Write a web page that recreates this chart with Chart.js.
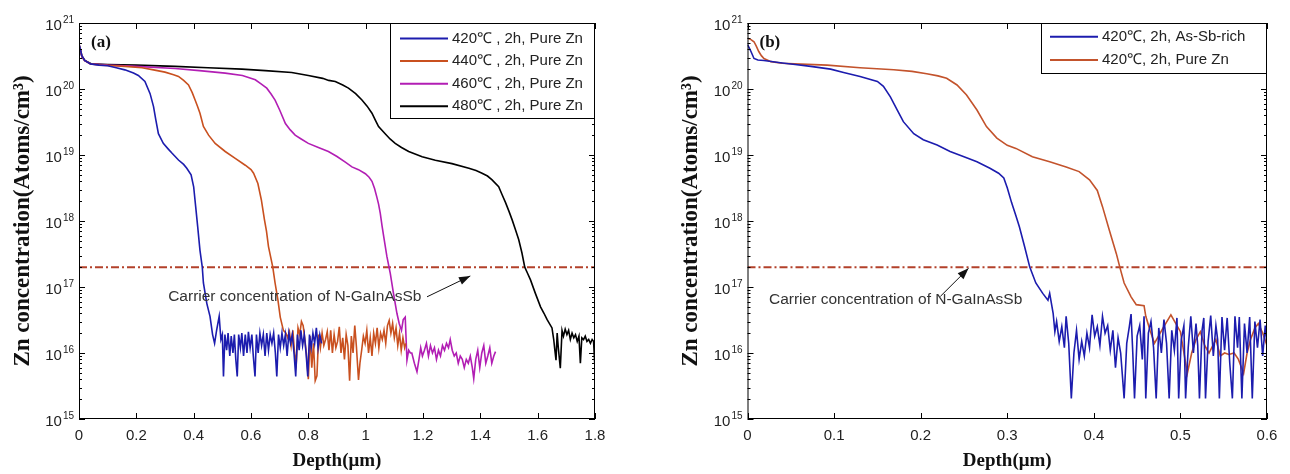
<!DOCTYPE html>
<html>
<head>
<meta charset="utf-8">
<script src="https://cdn.jsdelivr.net/npm/chart.js@4/dist/chart.umd.min.js"></script>
<style>
  html, body { margin: 0; padding: 0; background: #fff; }
  .panel { position: absolute; top: 0; width: 645px; height: 474px; }
</style>
</head>
<body>
<div class="panel" style="left:0"><canvas id="chartA" width="645" height="474"></canvas></div>
<div class="panel" style="left:645px"><canvas id="chartB" width="645" height="474"></canvas></div>
<script>
// ---- tick labels ----
const yExponents = [15, 16, 17, 18, 19, 20, 21];
const xTicksA = [0, 0.2, 0.4, 0.6, 0.8, 1, 1.2, 1.4, 1.6, 1.8];
const xLabelsA = ['0', '0.2', '0.4', '0.6', '0.8', '1', '1.2', '1.4', '1.6', '1.8'];
const xTicksB = [0, 0.1, 0.2, 0.3, 0.4, 0.5, 0.6];
const xLabelsB = ['0', '0.1', '0.2', '0.3', '0.4', '0.5', '0.6'];

// carrier concentration of N-GaInAsSb
const carrierLevel = 2e17;

// ---- panel (a): Pure Zn, 2h, 420-480 C ----
const depth420 = [0, 0.005, 0.01, 0.02, 0.04, 0.07, 0.10, 0.13, 0.16, 0.19, 0.207, 0.23, 0.248, 0.26, 0.268, 0.277, 0.294, 0.31, 0.324, 0.347, 0.365, 0.376, 0.391, 0.40, 0.407, 0.414, 0.422, 0.43, 0.434, 0.446, 0.457, 0.466, 0.473,
  0.480, 0.489, 0.495, 0.500, 0.504, 0.509, 0.515, 0.520, 0.526, 0.531, 0.537, 0.542, 0.547, 0.552, 0.557, 0.563, 0.568, 0.574, 0.580, 0.586, 0.591, 0.597, 0.603, 0.608, 0.614, 0.619, 0.625, 0.631, 0.637, 0.643, 0.649, 0.655, 0.661, 0.667, 0.673, 0.679, 0.685, 0.690, 0.696, 0.702, 0.708, 0.714, 0.720, 0.726, 0.732, 0.738, 0.744, 0.750, 0.756, 0.762, 0.768, 0.774, 0.780, 0.786, 0.792, 0.798, 0.804, 0.810, 0.816, 0.822, 0.828, 0.834, 0.840, 0.846];
const zn420 = [4.8e20, 4.0e20, 3.2e20, 2.7e20, 2.4e20, 2.3e20, 2.25e20, 2.1e20, 1.95e20, 1.75e20, 1.6e20, 1.3e20, 8.5e19, 5.4e19, 3.4e19, 2.1e19, 1.5e19, 1.25e19, 1.07e19, 8.4e18, 7.2e18, 6.3e18, 5e18, 3.3e18, 1.65e18, 8.2e17, 3.6e17, 2e17, 1.15e17, 5.6e16, 3.6e16, 1.9e16, 1.4e16,
  2.2e16, 3.6e16, 1.6e16, 1.9e16, 4.4e15, 1.9e16, 1.1e16, 2.0e16, 9e15, 1.8e16, 1.0e16, 1.9e16, 8e15, 4.4e15, 1.9e16, 1.2e16, 2.0e16, 9e15, 1.9e16, 1.0e16, 2.1e16, 1.2e16, 1.9e16, 9e15, 4.4e15, 1.9e16, 1.0e16, 2.0e16, 1.3e16, 1.9e16, 9e15, 2.0e16, 1.1e16, 1.9e16, 1.4e16, 2.0e16, 1.0e16, 4.4e15, 1.9e16, 1.2e16, 2.0e16, 1.3e16, 1.9e16, 9e15, 2.0e16, 1.4e16, 1.9e16, 1.0e16, 4.4e15, 1.9e16, 1.1e16, 2.2e16, 1.3e16, 1.9e16, 1.0e16, 4.4e15, 1.9e16, 1.2e16, 2.0e16, 1.4e16, 2.4e16, 1.2e16, 1.9e16, 1.4e16];

const depth440 = [0, 0.005, 0.01, 0.02, 0.04, 0.08, 0.12, 0.16, 0.22, 0.26, 0.30, 0.33, 0.347, 0.365, 0.382, 0.395, 0.405, 0.414, 0.422, 0.434, 0.452, 0.475, 0.51, 0.545, 0.58, 0.60, 0.609, 0.624, 0.636, 0.647, 0.654, 0.661, 0.676, 0.684, 0.694, 0.702, 0.713, 0.722,
  0.728, 0.734, 0.740, 0.746, 0.752, 0.758, 0.764, 0.770, 0.776, 0.782, 0.788, 0.794, 0.800, 0.806, 0.812, 0.818, 0.824, 0.830, 0.836, 0.842, 0.848, 0.854, 0.860, 0.866, 0.872, 0.878, 0.884, 0.890, 0.896, 0.902, 0.908, 0.914, 0.920, 0.926, 0.932, 0.938, 0.944, 0.950, 0.956, 0.962, 0.968, 0.975, 0.980, 0.986, 0.992, 0.998, 1.004, 1.010, 1.016, 1.022, 1.028, 1.034, 1.040, 1.046, 1.052, 1.058, 1.064, 1.070, 1.076, 1.082, 1.088, 1.094, 1.100, 1.106, 1.112, 1.118, 1.124, 1.130, 1.136, 1.140];
const zn440 = [4.8e20, 4.0e20, 3.2e20, 2.7e20, 2.4e20, 2.3e20, 2.25e20, 2.2e20, 2.1e20, 1.95e20, 1.8e20, 1.65e20, 1.55e20, 1.35e20, 1.15e20, 8.8e19, 6.8e19, 5.4e19, 4.3e19, 2.7e19, 2e19, 1.5e19, 1.13e19, 8.9e18, 7e18, 6e18, 5.3e18, 3.7e18, 2.1e18, 1.04e18, 7e17, 4.1e17, 2e17, 1.15e17, 6.3e16, 3.5e16, 2.2e16, 2e16,
  1.7e16, 2.1e16, 1.3e16, 2.2e16, 1.0e16, 7e15, 2.4e16, 1.9e16, 3.0e16, 2.6e16, 1.6e16, 9e15, 4e15, 1.8e16, 6e15, 1.4e16, 3.8e15, 4.5e15, 1.9e16, 1.2e16, 2.0e16, 1.3e16, 1.6e16, 2.1e16, 1.1e16, 2.2e16, 1.0e16, 1.9e16, 1.2e16, 1.5e16, 2.5e16, 1.0e16, 1.7e16, 8e15, 1.9e16, 1.3e16, 3.8e15, 1.8e16, 1.0e16, 2.6e16, 1.2e16, 3.9e15, 7e15, 1.1e16, 1.8e16, 1.4e16, 2.2e16, 1.0e16, 1.7e16, 9e15, 2.0e16, 1.4e16, 2.4e16, 1.2e16, 2.0e16, 1.6e16, 2.2e16, 1.4e16, 2.6e16, 3.1e16, 2.0e16, 2.8e16, 1.7e16, 2.4e16, 1.3e16, 2.0e16, 1.1e16, 1.7e16, 1.2e16, 1.4e16];

const depth460 = [0, 0.005, 0.01, 0.02, 0.04, 0.1, 0.2, 0.335, 0.42, 0.51, 0.57, 0.615, 0.635, 0.655, 0.67, 0.684, 0.70, 0.72, 0.737, 0.754, 0.775, 0.80, 0.835, 0.87, 0.90, 0.929, 0.952, 0.975, 0.999, 1.012, 1.022, 1.031, 1.039, 1.045, 1.051, 1.057, 1.063, 1.074, 1.086, 1.097, 1.109, 1.117, 1.125, 1.131, 1.138,
  1.144, 1.150, 1.156, 1.161, 1.170, 1.179, 1.186, 1.192, 1.198, 1.205, 1.212, 1.219, 1.226, 1.233, 1.240, 1.247, 1.254, 1.261, 1.268, 1.275, 1.282, 1.289, 1.295, 1.302, 1.309, 1.316, 1.323, 1.330, 1.337, 1.344, 1.351, 1.358, 1.365, 1.372, 1.377, 1.384, 1.391, 1.398, 1.405, 1.412, 1.419, 1.426, 1.433, 1.440, 1.447, 1.453];
const zn460 = [4.6e20, 3.9e20, 3.1e20, 2.7e20, 2.4e20, 2.3e20, 2.2e20, 2.05e20, 1.9e20, 1.74e20, 1.6e20, 1.38e20, 1.2e20, 1.03e20, 8.4e19, 6.8e19, 4.8e19, 3e19, 2.4e19, 2e19, 1.75e19, 1.5e19, 1.3e19, 1.13e19, 9.5e18, 7.8e18, 6.6e18, 6e18, 5.2e18, 4.6e18, 4e18, 3.1e18, 2.3e18, 1.8e18, 1.3e18, 8.5e17, 5.8e17, 2.9e17, 1.6e17, 8e16, 4e16, 2.8e16, 2.2e16, 3.2e16, 3.5e16,
  7.8e15, 1.1e16, 1.0e16, 1.0e16, 7e15, 5.2e15, 8e15, 1.2e16, 9e15, 1.1e16, 1.4e16, 9e15, 1.3e16, 1.0e16, 1.2e16, 8e15, 1.1e16, 9e15, 1.3e16, 1.1e16, 1.4e16, 1.2e16, 1.6e16, 1.1e16, 9e15, 1.0e16, 7e15, 9e15, 8e15, 6e15, 8e15, 7e15, 9e15, 6e15, 4.1e15, 8e15, 1.1e16, 6e15, 1.0e16, 1.3e16, 7e15, 9e15, 1.2e16, 7e15, 9e15, 1.05e16];

const depth480 = [0, 0.005, 0.01, 0.02, 0.044, 0.1, 0.2, 0.335, 0.45, 0.568, 0.65, 0.742, 0.80, 0.85, 0.871, 0.894, 0.92, 0.94, 0.965, 0.987, 1.005, 1.022, 1.035, 1.045, 1.068, 1.085, 1.103, 1.125, 1.15, 1.197, 1.243, 1.301, 1.36, 1.385, 1.406, 1.425, 1.441, 1.464, 1.476, 1.488, 1.5, 1.511, 1.522, 1.534, 1.545, 1.555, 1.565, 1.575, 1.592, 1.61, 1.622, 1.633, 1.65, 1.656,
  1.660, 1.664, 1.668, 1.672, 1.679, 1.685, 1.690, 1.696, 1.702, 1.708, 1.714, 1.720, 1.726, 1.732, 1.738, 1.744, 1.749, 1.754, 1.760, 1.766, 1.772, 1.778, 1.784, 1.790, 1.795, 1.799];
const zn480 = [4.6e20, 3.8e20, 3.1e20, 2.7e20, 2.4e20, 2.35e20, 2.3e20, 2.2e20, 2.1e20, 2.0e20, 1.9e20, 1.78e20, 1.6e20, 1.45e20, 1.35e20, 1.3e20, 1.15e20, 1.03e20, 8.5e19, 6.8e19, 5.5e19, 4.3e19, 3.3e19, 2.7e19, 2.1e19, 1.75e19, 1.5e19, 1.3e19, 1.13e19, 9.4e18, 8.3e18, 7.4e18, 6.3e18, 5.8e18, 5.3e18, 4.8e18, 4.2e18, 3.3e18, 2.5e18, 1.9e18, 1.4e18, 1.04e18, 7.5e17, 5.2e17, 3.3e17, 2e17, 1.6e17, 1.28e17, 8e16, 5e16, 4e16, 3.2e16, 2.4e16, 1.6e16,
  1.1e16, 7.8e15, 2.0e16, 1.2e16, 5.9e15, 2.2e16, 1.8e16, 2.3e16, 1.9e16, 2.2e16, 1.6e16, 2.0e16, 1.7e16, 1.9e16, 1.5e16, 1.8e16, 7e15, 1.7e16, 1.6e16, 1.8e16, 1.5e16, 1.6e16, 1.4e16, 1.6e16, 1.5e16, 7e15];

// ---- panel (b): 420 C, 2h, As-Sb-rich vs Pure Zn ----
const depthAsSb = [0, 0.002, 0.004, 0.0075, 0.012, 0.019, 0.038, 0.055, 0.073, 0.096, 0.111, 0.13, 0.15, 0.157, 0.165, 0.173, 0.18, 0.192, 0.203, 0.219, 0.234, 0.25, 0.265, 0.28, 0.29, 0.296, 0.30, 0.305, 0.31, 0.314, 0.32, 0.326, 0.333, 0.341, 0.347, 0.349, 0.353, 0.355,
  0.357, 0.360, 0.363, 0.366, 0.368, 0.371, 0.374, 0.377, 0.380, 0.383, 0.386, 0.389, 0.392, 0.395, 0.398, 0.401, 0.404, 0.407, 0.410, 0.413, 0.416, 0.419, 0.422, 0.425, 0.428, 0.431, 0.435, 0.438, 0.441, 0.443, 0.445, 0.447, 0.450, 0.453, 0.456, 0.458, 0.460, 0.463, 0.466, 0.469, 0.472, 0.475, 0.478, 0.481, 0.484, 0.487, 0.490, 0.493, 0.496, 0.498, 0.501, 0.504, 0.506, 0.509, 0.512, 0.515, 0.518, 0.520, 0.522, 0.525, 0.527, 0.529, 0.532, 0.535, 0.538, 0.541, 0.543, 0.545, 0.548, 0.551, 0.554, 0.557, 0.560, 0.563, 0.566, 0.568, 0.571, 0.574, 0.577, 0.580, 0.583, 0.586, 0.589, 0.592, 0.595, 0.598, 0.600];
const znAsSb = [4.7e20, 4.2e20, 3.7e20, 2.9e20, 2.75e20, 2.7e20, 2.5e20, 2.35e20, 2.2e20, 2.0e20, 1.78e20, 1.55e20, 1.3e20, 1.1e20, 7.6e19, 4.8e19, 3.2e19, 2.1e19, 1.7e19, 1.42e19, 1.13e19, 9.4e18, 7.9e18, 6.3e18, 5.3e18, 4.5e18, 3.2e18, 1.9e18, 1.2e18, 8.2e17, 4.1e17, 2e17, 1.15e17, 8e16, 6.3e16, 8e16, 4e16, 2.1e16,
  3.0e16, 1.5e16, 2.5e16, 1.2e16, 3.6e16, 1.4e16, 2.05e15, 1.0e16, 2.2e16, 8e15, 1.5e16, 9e15, 2.0e16, 1.2e16, 3.8e16, 1.8e16, 2.5e16, 1.3e16, 3.6e16, 2.0e16, 2.6e16, 1.1e16, 2.2e16, 6e15, 1.7e16, 1.0e16, 2.05e15, 1.4e16, 2.5e16, 3.9e16, 1.0e16, 2.05e15, 1.8e16, 2.6e16, 8e15, 3.6e16, 2.05e15, 2.0e16, 3.0e16, 1.2e16, 2.05e15, 2.4e16, 1.0e16, 3.2e16, 1.4e16, 2.05e15, 2.2e16, 1.1e16, 3.4e16, 2.05e15, 1.6e16, 2.6e16, 2.05e15, 1.2e16, 3.6e16, 1.0e16, 2.8e16, 1.3e16, 2.05e15, 2.2e16, 3.4e16, 2.05e15, 1.5e16, 3.7e16, 9e15, 2.6e16, 1.6e16, 2.05e15, 3.5e16, 1.1e16, 3.4e16, 7e15, 2.05e15, 3.6e16, 1.2e16, 3.5e16, 2.05e15, 2.8e16, 1.0e16, 3.5e16, 2.05e15, 3.0e16, 1.2e16, 3.2e16, 9e15, 2.6e16, 1.3e16];

const depthPureB = [0, 0.004, 0.0075, 0.01, 0.013, 0.016, 0.019, 0.027, 0.04, 0.054, 0.092, 0.13, 0.169, 0.19, 0.207, 0.22, 0.23, 0.242, 0.253, 0.265, 0.276, 0.288, 0.30, 0.31, 0.329, 0.349, 0.368, 0.383, 0.395, 0.404, 0.41, 0.418, 0.426, 0.43, 0.435, 0.443, 0.449, 0.458, 0.46, 0.465, 0.47, 0.48, 0.489, 0.5, 0.508, 0.513, 0.518, 0.523, 0.528, 0.533, 0.541, 0.546, 0.551, 0.556, 0.562, 0.567, 0.573, 0.577, 0.581, 0.586, 0.59, 0.595, 0.6];
const znPureB = [5.9e20, 5.6e20, 5.2e20, 4.5e20, 3.7e20, 3.2e20, 2.9e20, 2.6e20, 2.45e20, 2.4e20, 2.3e20, 2.1e20, 1.96e20, 1.85e20, 1.7e20, 1.58e20, 1.45e20, 1.15e20, 8.1e19, 4.8e19, 2.7e19, 1.8e19, 1.4e19, 1.26e19, 9.4e18, 7.9e18, 6.6e18, 5.6e18, 4.2e18, 2.9e18, 1.65e18, 7.2e17, 3.2e17, 2e17, 1.15e17, 7.1e16, 5.4e16, 5.2e16, 3.6e16, 2.2e16, 1.4e16, 2.4e16, 3.8e16, 2.1e16, 4.9e15, 1.0e16, 1.6e16, 2.1e16, 1.3e16, 1.0e16, 1.6e16, 9e15, 1.0e16, 9.5e15, 1.0e16, 8e15, 4.9e15, 1.0e16, 1.6e16, 2.4e16, 2.8e16, 2.0e16, 1.3e16];

const BLUE = '#1c1cae', ORANGE = '#c9501f', PURPLE = '#b21eb4', BLACK = '#000000';
const ORANGE_B = '#c3532c', CARRIER = '#b3412b';

function pts(xs, ys) { return xs.map((x, i) => ({ x, y: ys[i] })); }

function series(label, xs, ys, color) {
  return { label, data: pts(xs, ys), borderColor: color, backgroundColor: color, borderWidth: 1.6, pointRadius: 0, tension: 0 };
}

function carrierSet(xmax) {
  return { label: '', data: pts([0, xmax], [carrierLevel, carrierLevel]), borderColor: CARRIER, borderWidth: 2, borderDash: [8, 3, 2, 3], pointRadius: 0 };
}

// box, inward ticks, y tick labels, legend, panel tag and arrow note
const framePlugin = {
  id: 'frame',
  afterDatasetsDraw(chart, args, o) {
    const { ctx, chartArea: a, scales: { x, y } } = chart;
    ctx.save();
    ctx.strokeStyle = '#000';
    ctx.lineWidth = 1;
    ctx.strokeRect(a.left + 0.5, a.top + 0.5, a.right - a.left - 1, a.bottom - a.top - 1);

    ctx.beginPath();
    x.ticks.forEach(t => {
      const px = Math.round(x.getPixelForValue(t.value)) + 0.5;
      ctx.moveTo(px, a.bottom); ctx.lineTo(px, a.bottom - 6);
      ctx.moveTo(px, a.top); ctx.lineTo(px, a.top + 6);
    });
    yExponents.forEach((e, i) => {
      const py = Math.round(y.getPixelForValue(Math.pow(10, e))) + 0.5;
      ctx.moveTo(a.left, py); ctx.lineTo(a.left + 6, py);
      ctx.moveTo(a.right, py); ctx.lineTo(a.right - 6, py);
      if (i === yExponents.length - 1) return;
      for (let k = 2; k <= 9; k++) {
        const pm = Math.round(y.getPixelForValue(k * Math.pow(10, e))) + 0.5;
        ctx.moveTo(a.left, pm); ctx.lineTo(a.left + 3, pm);
        ctx.moveTo(a.right, pm); ctx.lineTo(a.right - 3, pm);
      }
    });
    ctx.stroke();

    // y tick labels as 10^n
    ctx.fillStyle = '#222';
    ctx.textAlign = 'right';
    ctx.textBaseline = 'alphabetic';
    yExponents.forEach(e => {
      const py = y.getPixelForValue(Math.pow(10, e));
      ctx.font = '10px "Liberation Sans", Arial, sans-serif';
      const ex = String(e);
      const w = ctx.measureText(ex).width;
      ctx.fillText(ex, a.left - 5, py);
      ctx.font = '15px "Liberation Sans", Arial, sans-serif';
      ctx.fillText('10', a.left - 6 - w, py + 7);
    });

    // panel tag
    ctx.font = 'bold 17px "Liberation Serif", "Times New Roman", serif';
    ctx.textAlign = 'left';
    ctx.textBaseline = 'middle';
    ctx.fillStyle = '#111';
    ctx.fillText(o.tag, a.left + 12, a.top + 20);

    // legend
    const L = o.legend;
    const bx = a.right - L.width, by = a.top;
    ctx.fillStyle = '#fff';
    ctx.fillRect(bx, by, L.width, L.height);
    ctx.strokeStyle = '#000';
    ctx.strokeRect(bx + 0.5, by + 0.5, L.width - 1, L.height - 1);
    ctx.font = '15px "Liberation Sans", Arial, sans-serif';
    chart.data.datasets.filter(d => d.label).forEach((d, i) => {
      const ly = by + L.first + i * L.gap;
      ctx.strokeStyle = d.borderColor;
      ctx.lineWidth = 2;
      ctx.beginPath();
      ctx.moveTo(bx + L.lineX, ly); ctx.lineTo(bx + L.lineX + 48, ly);
      ctx.stroke();
      ctx.fillStyle = '#222';
      ctx.fillText(d.label, bx + L.lineX + 52, ly);
    });

    // note with arrow (data coordinates)
    const n = o.note;
    ctx.fillStyle = '#333';
    ctx.font = '15.5px "Liberation Sans", Arial, sans-serif';
    ctx.fillText(n.text, x.getPixelForValue(n.at[0]), y.getPixelForValue(n.at[1]));
    const x1 = x.getPixelForValue(n.from[0]), y1 = y.getPixelForValue(n.from[1]);
    const x2 = x.getPixelForValue(n.to[0]), y2 = y.getPixelForValue(n.to[1]);
    const ang = Math.atan2(y2 - y1, x2 - x1);
    ctx.strokeStyle = '#111';
    ctx.lineWidth = 1;
    ctx.beginPath(); ctx.moveTo(x1, y1); ctx.lineTo(x2, y2); ctx.stroke();
    ctx.fillStyle = '#111';
    ctx.beginPath();
    ctx.moveTo(x2, y2);
    ctx.lineTo(x2 - 12 * Math.cos(ang - 0.35), y2 - 12 * Math.sin(ang - 0.35));
    ctx.lineTo(x2 - 12 * Math.cos(ang + 0.35), y2 - 12 * Math.sin(ang + 0.35));
    ctx.closePath(); ctx.fill();
    ctx.restore();
  }
};

function makeChart(id, datasets, xmax, xTicks, xLabels, pad, frame) {
  return new Chart(document.getElementById(id), {
    type: 'line',
    data: { datasets },
    plugins: [framePlugin],
    options: {
      responsive: false,
      animation: false,
      parsing: true,
      layout: { padding: pad },
      plugins: { legend: { display: false }, tooltip: { enabled: false }, frame },
      scales: {
        x: {
          type: 'linear', min: 0, max: xmax,
          afterBuildTicks: s => { s.ticks = xTicks.map(v => ({ value: v })); },
          afterFit: s => { s.height = 55; },
          grid: { display: false, drawTicks: false },
          border: { display: false },
          ticks: { padding: 8, color: '#222', font: { family: '"Liberation Sans", Arial, sans-serif', size: 15 }, callback: (v, i) => xLabels[i] },
          title: { display: true, text: 'Depth(μm)', color: '#111', padding: { top: 0, bottom: 2 }, font: { family: '"Liberation Serif", "Times New Roman", serif', size: 19, weight: 'bold' } }
        },
        y: {
          type: 'logarithmic', min: 1e15, max: 1e21,
          afterBuildTicks: s => { s.ticks = yExponents.map(e => ({ value: Math.pow(10, e) })); },
          afterFit: s => { s.width = 79; },
          grid: { display: false, drawTicks: false },
          border: { display: false },
          ticks: { display: false },
          title: { display: true, text: 'Zn concentration(Atoms/cm³)', color: '#111', padding: { top: 9, bottom: 0 }, font: { family: '"Liberation Serif", "Times New Roman", serif', size: 23, weight: 'bold' } }
        }
      }
    }
  });
}

makeChart('chartA', [
  series('420℃ , 2h, Pure Zn', depth420, zn420, BLUE),
  series('440℃ , 2h, Pure Zn', depth440, zn440, ORANGE),
  series('460℃ , 2h, Pure Zn', depth460, zn460, PURPLE),
  series('480℃ , 2h, Pure Zn', depth480, zn480, BLACK),
  carrierSet(1.8)
], 1.8, xTicksA, xLabelsA, { left: 0, right: 50, top: 23, bottom: 0 }, {
  tag: '(a)',
  legend: { width: 205, height: 96, first: 15.5, gap: 22.6, lineX: 10 },
  note: { text: 'Carrier concentration of N-GaInAsSb', at: [0.311, 7.1e16], from: [1.214, 7.1e16], to: [1.365, 1.47e17] }
});

makeChart('chartB', [
  series('420℃, 2h, As-Sb-rich', depthAsSb, znAsSb, BLUE),
  series('420℃, 2h, Pure Zn', depthPureB, znPureB, ORANGE_B),
  carrierSet(0.6)
], 0.6, xTicksB, xLabelsB, { left: 23.5, right: 23, top: 23, bottom: 0 }, {
  tag: '(b)',
  legend: { width: 226, height: 51, first: 13.7, gap: 23.3, lineX: 9 },
  note: { text: 'Carrier concentration of N-GaInAsSb', at: [0.0248, 6.5e16], from: [0.2227, 7.2e16], to: [0.2553, 1.92e17] }
});
</script>
</body>
</html>
